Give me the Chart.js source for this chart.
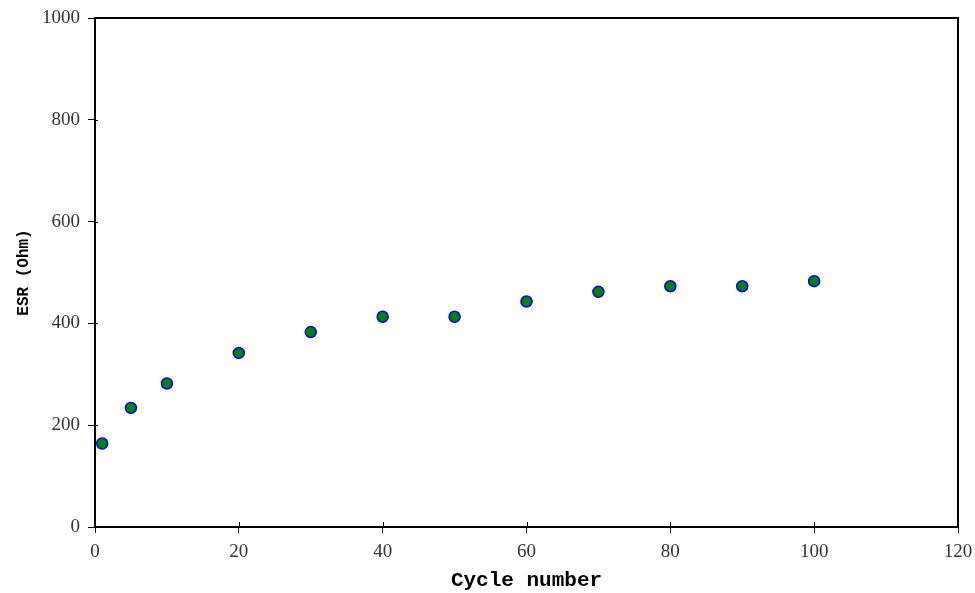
<!DOCTYPE html>
<html>
<head>
<meta charset="utf-8">
<script src="https://cdn.jsdelivr.net/npm/chart.js@4/dist/chart.umd.min.js"></script>
<style>
    html, body { margin: 0; padding: 0; background: #fff; }
    #wrap { width: 975px; height: 593px; }
</style>
</head>
<body>
<div id="wrap"><canvas id="esr-chart" width="975" height="593"></canvas></div>
<script>
// Data
const cycles = [1, 5, 10, 20, 30, 40, 50, 60, 70, 80, 90, 100];
const esrValues = [164, 234, 282, 342, 383, 413, 413, 443, 462, 473, 473, 483];
const xTicks = [0, 20, 40, 60, 80, 100, 120];
const yTicks = [0, 200, 400, 600, 800, 1000];

const tickFont = { family: "'Liberation Serif', 'DejaVu Serif', serif", size: 19 };
const xTitleFont = { family: "'Liberation Mono', 'DejaVu Sans Mono', monospace", size: 21, weight: 'bold' };
const yTitleFont = { family: "'Liberation Mono', 'DejaVu Sans Mono', monospace", size: 16, weight: 'bold' };

// Frame around the plot area plus the inner half of the tick marks
const framePlugin = {
    id: 'frame',
    afterDraw(chart) {
        const { ctx, chartArea: a, scales } = chart;
        ctx.save();
        ctx.strokeStyle = '#000';
        ctx.lineWidth = 2;
        ctx.strokeRect(a.left, a.top, a.right - a.left, a.bottom - a.top);
        ctx.lineWidth = 1;
        ctx.beginPath();
        xTicks.forEach(v => {
            const px = Math.round(scales.x.getPixelForValue(v)) + 0.5;
            ctx.moveTo(px, a.bottom);
            ctx.lineTo(px, a.bottom - 5);
        });
        yTicks.forEach(v => {
            const py = Math.round(scales.y.getPixelForValue(v)) + 0.5;
            ctx.moveTo(a.left, py);
            ctx.lineTo(a.left + 3, py);
        });
        ctx.stroke();
        ctx.restore();
    }
};

const ctx = document.getElementById('esr-chart').getContext('2d');
new Chart(ctx, {
    type: 'scatter',
    data: {
        datasets: [{
            label: 'ESR',
            data: cycles.map((c, i) => ({ x: c, y: esrValues[i] })),
            backgroundColor: '#008000',
            borderColor: '#0000ff',
            borderWidth: 1.5,
            pointRadius: 5.5
        }]
    },
    options: {
        responsive: false,
        animation: false,
        layout: { padding: { top: 18, right: 17, left: 0, bottom: 0 } },
        plugins: {
            legend: { display: false },
            tooltip: { enabled: false }
        },
        scales: {
            x: {
                type: 'linear',
                min: 0,
                max: 120,
                afterBuildTicks: axis => { axis.ticks = xTicks.map(v => ({ value: v })); },
                afterFit: axis => {
                    axis.height = 66;
                    axis.paddingLeft = 0;
                    axis.paddingRight = 0;
                },
                grid: { drawOnChartArea: false, color: '#000', tickLength: 6, tickWidth: 1 },
                border: { display: false },
                ticks: { color: '#333', font: tickFont, padding: 8, maxRotation: 0 },
                title: { display: true, text: 'Cycle number', color: '#000', font: xTitleFont, padding: { top: 0, bottom: 0 } }
            },
            y: {
                min: 0,
                max: 1000,
                afterBuildTicks: axis => { axis.ticks = yTicks.map(v => ({ value: v })); },
                afterFit: axis => {
                    axis.width = 95;
                    axis.paddingTop = 0;
                    axis.paddingBottom = 0;
                },
                grid: { drawOnChartArea: false, color: '#000', tickLength: 7, tickWidth: 1 },
                border: { display: false },
                ticks: { color: '#333', font: tickFont, padding: 8, callback: v => String(v) },
                title: { display: true, text: 'ESR (Ohm)', color: '#000', font: yTitleFont, padding: { top: 14, bottom: 0 } }
            }
        }
    },
    plugins: [framePlugin]
});
</script>
</body>
</html>
